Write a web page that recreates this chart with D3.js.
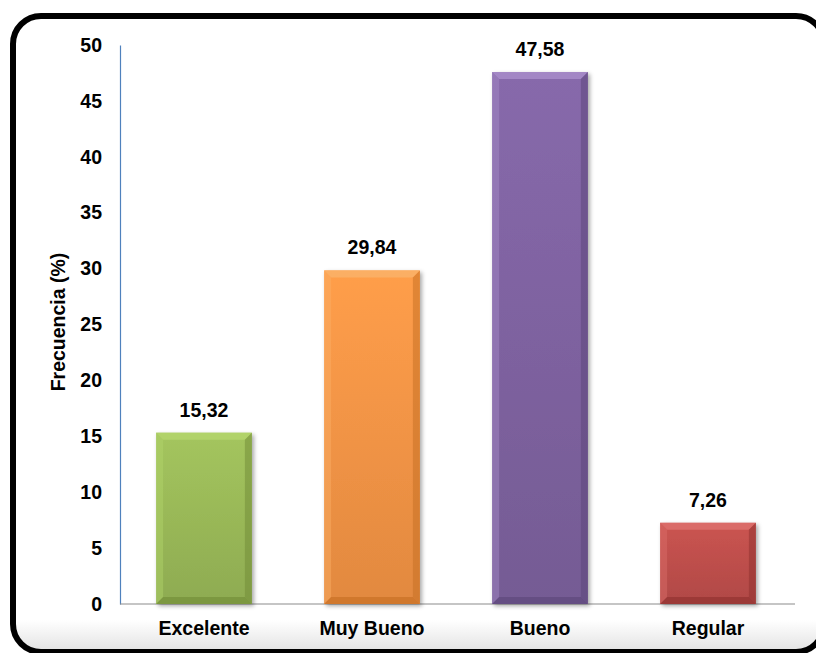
<!DOCTYPE html>
<html><head><meta charset="utf-8">
<script src="https://cdn.jsdelivr.net/npm/d3@7"></script>
<style>body{margin:0;background:#fff}svg{display:block}</style>
</head><body>
<svg id="c" width="816" height="653"></svg>
<script>
const categories = ["Excelente", "Muy Bueno", "Bueno", "Regular"];
const values = [15.32, 29.84, 47.58, 7.26];
const valueLabels = ["15,32", "29,84", "47,58", "7,26"];
const yTicks = [0, 5, 10, 15, 20, 25, 30, 35, 40, 45, 50];
const colors = [
  {base:"#9bbb59", light:"#b2d46a", dark:"#6f8a36"},
  {base:"#f79646", light:"#fbb067", dark:"#c46d22"},
  {base:"#8064a2", light:"#a68bc8", dark:"#5a4478"},
  {base:"#c0504d", light:"#dc6e6a", dark:"#8e2f2d"}
];

const FONT = "Liberation Sans, Arial, sans-serif";
const svg = d3.select("#c");
const m = {left:120};
const x = d3.scaleBand().domain(categories).range([m.left, 792]).paddingInner(0.43).paddingOuter(0.215);
const y = d3.scaleLinear().domain([0, 50]).range([604, 45]);

const defs = svg.append("defs");
colors.forEach((c, i) => {
  const g = defs.append("linearGradient").attr("id", "g" + i).attr("x1", 0).attr("y1", 0).attr("x2", 0).attr("y2", 1);
  g.append("stop").attr("offset", "0%").attr("stop-color", d3.color(c.base).brighter(0.15));
  g.append("stop").attr("offset", "100%").attr("stop-color", d3.color(c.base).darker(0.25));
});
const f = defs.append("filter").attr("id", "sh").attr("x", "-20%").attr("y", "-20%").attr("width", "140%").attr("height", "140%");
f.append("feDropShadow").attr("dx", 2).attr("dy", 2).attr("stdDeviation", 2).attr("flood-color", "#000").attr("flood-opacity", 0.35);
const fg = defs.append("linearGradient").attr("id", "fg").attr("x1", 0).attr("y1", 0).attr("x2", 0).attr("y2", 1);
fg.append("stop").attr("offset", "0%").attr("stop-color", "#fff");
fg.append("stop").attr("offset", "95%").attr("stop-color", "#fff");
fg.append("stop").attr("offset", "100%").attr("stop-color", "#e2e2e2");

// frame
svg.append("rect").attr("x", 13).attr("y", 16).attr("width", 811).attr("height", 636)
  .attr("rx", 28).attr("fill", "url(#fg)").attr("stroke", "#000").attr("stroke-width", 6);

// axes
const yAxis = d3.axisLeft(y).tickValues(yTicks).tickSize(0).tickPadding(18);
const gy = svg.append("g").attr("transform", `translate(${m.left},0)`).call(yAxis);
gy.select(".domain").attr("stroke", "#4f81bd").attr("stroke-width", 1.2);
gy.selectAll("text").attr("font-family", FONT).attr("font-weight", "bold").attr("font-size", 19.5).attr("fill", "#000");

const xAxis = d3.axisBottom(x).tickSize(0).tickPadding(17);
const gx = svg.append("g").attr("transform", `translate(0,${y(0)})`).call(xAxis);
gx.select(".domain").attr("stroke", "#8c8c8c").attr("stroke-width", 1.2).attr("d", `M${m.left},0H795`);
gx.selectAll("text").attr("font-family", FONT).attr("font-weight", "bold").attr("font-size", 19.5).attr("fill", "#000");

// bars
const bars = svg.append("g").selectAll("g").data(values).join("g");
bars.append("rect")
  .attr("x", (d, i) => x(categories[i])).attr("y", d => y(d))
  .attr("width", x.bandwidth()).attr("height", d => y(0) - y(d))
  .attr("fill", (d, i) => `url(#g${i})`).attr("filter", "url(#sh)");
const bv = 7;
bars.append("path").attr("d", (d, i) => {
  const x0 = x(categories[i]), x1 = x0 + x.bandwidth(), t = y(d);
  return `M${x0},${t}H${x1}L${x1 - bv},${t + bv}H${x0 + bv}Z`;
}).attr("fill", (d, i) => colors[i].light).attr("opacity", 0.9);
bars.append("path").attr("d", (d, i) => {
  const x0 = x(categories[i]), t = y(d), b = y(0);
  return `M${x0},${t}L${x0 + bv},${t + bv}V${b - bv}L${x0},${b}Z`;
}).attr("fill", (d, i) => colors[i].light).attr("opacity", 0.45);
bars.append("path").attr("d", (d, i) => {
  const x1 = x(categories[i]) + x.bandwidth(), t = y(d), b = y(0);
  return `M${x1},${t}L${x1 - bv},${t + bv}V${b - bv}L${x1},${b}Z`;
}).attr("fill", (d, i) => colors[i].dark).attr("opacity", 0.5);
bars.append("path").attr("d", (d, i) => {
  const x0 = x(categories[i]), x1 = x0 + x.bandwidth(), b = y(0);
  return `M${x0},${b}H${x1}L${x1 - bv},${b - bv}H${x0 + bv}Z`;
}).attr("fill", (d, i) => colors[i].dark).attr("opacity", 0.6);

// value labels
svg.append("g").selectAll("text").data(values).join("text")
  .attr("x", (d, i) => x(categories[i]) + x.bandwidth() / 2)
  .attr("y", d => y(d) - 16)
  .attr("text-anchor", "middle")
  .attr("font-family", FONT).attr("font-weight", "bold").attr("font-size", 19.5)
  .text((d, i) => valueLabels[i]);

// y title
svg.append("text").attr("transform", `translate(65,322) rotate(-90)`)
  .attr("text-anchor", "middle")
  .attr("font-family", FONT).attr("font-weight", "bold").attr("font-size", 19.5)
  .text("Frecuencia (%)");
</script>
</body></html>
